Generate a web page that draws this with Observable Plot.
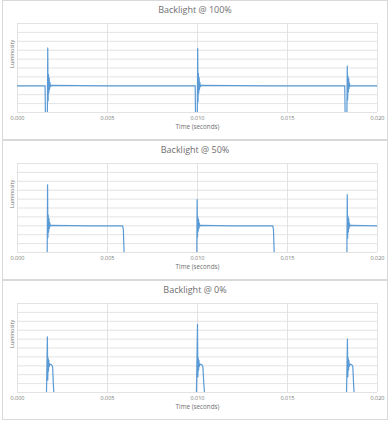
<!DOCTYPE html>
<html>
<head>
<meta charset="utf-8">
<script src="https://cdn.jsdelivr.net/npm/d3@7"></script>
<script src="https://cdn.jsdelivr.net/npm/@observablehq/plot@0.6"></script>
<style>
  body { margin: 0; background: #fff; font-family: "Open Sans", sans-serif; }
  #wrap { position: relative; width: 390px; height: 421px; overflow: hidden; }
  .panel { position: absolute; left: 2px; width: 386px; height: 140px; border: 1px solid #d9d9d9; box-sizing: border-box; }
  .title { position: absolute; left: 0; width: 390px; text-align: center; font-size: 9px; color: #6f6f6f; }
  .chart { position: absolute; left: 0; }
</style>
</head>
<body>
<div id="wrap"></div>
<script>
const titles = ["Backlight @ 100%", "Backlight @ 50%", "Backlight @ 0%"];
const xTicks = [0, 0.005, 0.010, 0.015, 0.020];
const yGrid = [0, 1, 2, 3, 4, 5, 6, 7, 8, 9, 10];

// [time (s), luminosity]
const wave100 = [
  [0, 3.0], [0.00153, 3.0], [0.00155, 0], [0.00166, 0], [0.00168, 7.25], [0.00170, 1.3],
  [0.00172, 4.3], [0.00174, 2.2], [0.00176, 3.9], [0.00178, 2.6], [0.00180, 3.4], [0.00183, 2.9],
  [0.00187, 3.05], [0.0050, 3.0], [0.0080, 3.0],
  [0.00987, 3.0], [0.00989, 0], [0.00999, 0], [0.01001, 7.2], [0.01003, 1.2], [0.01005, 4.4],
  [0.01007, 2.2], [0.01009, 3.9], [0.01011, 2.6], [0.01013, 3.4], [0.01016, 2.9], [0.01020, 3.05],
  [0.0140, 3.0],
  [0.01818, 3.0], [0.01820, 0], [0.01830, 0], [0.01832, 5.2], [0.01834, 1.4], [0.01836, 4.1],
  [0.01838, 2.3], [0.01840, 3.8], [0.01842, 2.7], [0.01844, 3.3], [0.01847, 2.95], [0.01851, 3.0],
  [0.0200, 3.0]
];

const wave50 = [
  [0, 0], [0.00165, 0], [0.00167, 7.6], [0.00169, 1.7], [0.00171, 4.2], [0.00173, 2.3],
  [0.00175, 3.8], [0.00177, 2.7], [0.00179, 3.35], [0.00182, 2.95], [0.00186, 3.05], [0.0040, 3.0],
  [0.00584, 3.0], [0.00588, 2.6], [0.00592, 0],
  [0.00996, 0], [0.00998, 5.95], [0.01000, 1.75], [0.01002, 4.0], [0.01004, 2.4], [0.01006, 3.7],
  [0.01008, 2.7], [0.01010, 3.3], [0.01013, 2.95], [0.01017, 3.05], [0.0120, 3.0],
  [0.01418, 3.0], [0.01422, 2.6], [0.01426, 0],
  [0.01830, 0], [0.01832, 6.5], [0.01834, 1.6], [0.01836, 4.1], [0.01838, 2.3], [0.01840, 3.8],
  [0.01842, 2.7], [0.01844, 3.3], [0.01847, 2.95], [0.01851, 3.05], [0.0200, 3.0]
];

const wave0 = [
  [0, 0], [0.00161, 0], [0.00166, 6.25], [0.00168, 1.4], [0.00170, 3.9], [0.00172, 2.4],
  [0.00174, 3.6], [0.00176, 2.9], [0.00179, 3.2], [0.00190, 3.1], [0.00195, 2.9], [0.00199, 1.0],
  [0.00202, 0],
  [0.00994, 0], [0.01000, 7.67], [0.01002, 1.75], [0.01004, 3.9], [0.01006, 2.5], [0.01008, 3.6],
  [0.01010, 2.9], [0.01013, 3.2], [0.01025, 3.1], [0.01030, 2.9], [0.01035, 1.0], [0.01039, 0],
  [0.01828, 0], [0.01833, 6.0], [0.01835, 1.75], [0.01837, 3.9], [0.01839, 2.5], [0.01841, 3.6],
  [0.01843, 2.9], [0.01846, 3.2], [0.01858, 3.1], [0.01863, 2.9], [0.01867, 1.0], [0.01870, 0],
  [0.0200, 0]
];

const waves = [wave100, wave50, wave0];
const offsets = [0, 140, 280];
const wrap = document.getElementById("wrap");

waves.forEach((w, i) => {
  const top = offsets[i];
  const panel = document.createElement("div");
  panel.className = "panel";
  panel.style.top = top + "px";
  wrap.appendChild(panel);

  const data = w.map(([t, v]) => ({t, v}));
  const svg = Plot.plot({
    width: 390,
    height: 140,
    marginTop: 23,
    marginBottom: 28,
    marginLeft: 17,
    marginRight: 13,
    style: {fontFamily: "Open Sans, sans-serif", background: "transparent", color: "#7a7a7a"},
    x: {domain: [0, 0.02]},
    y: {domain: [0, 10], axis: null},
    marks: [
      Plot.gridY(yGrid, {stroke: "#dcdcdc", strokeOpacity: 1, strokeWidth: 0.8}),
      Plot.gridX(xTicks, {stroke: "#dcdcdc", strokeOpacity: 1, strokeWidth: 0.8}),
      Plot.axisX(xTicks, {tickFormat: d3.format(".3f"), tickSize: 0, tickPadding: 4, fontSize: 5.5, fill: "#7a7a7a", label: null}),
      Plot.line(data, {x: "t", y: "v", stroke: "#5B9BD5", strokeWidth: 1.2, clip: true}),
      Plot.text(["Time (seconds)"], {frameAnchor: "bottom", dy: 16, fontSize: 6.3, fill: "#6f6f6f"}),
      Plot.text(["Luminosity"], {frameAnchor: "left", rotate: -90, dx: -5, fontSize: 5.5, fill: "#6f6f6f"})
    ]
  });
  svg.classList.add("chart");
  svg.style.top = top + "px";
  wrap.appendChild(svg);

  const title = document.createElement("div");
  title.className = "title";
  title.style.top = (top + 3) + "px";
  title.textContent = titles[i];
  wrap.appendChild(title);
});
</script>
</body>
</html>
